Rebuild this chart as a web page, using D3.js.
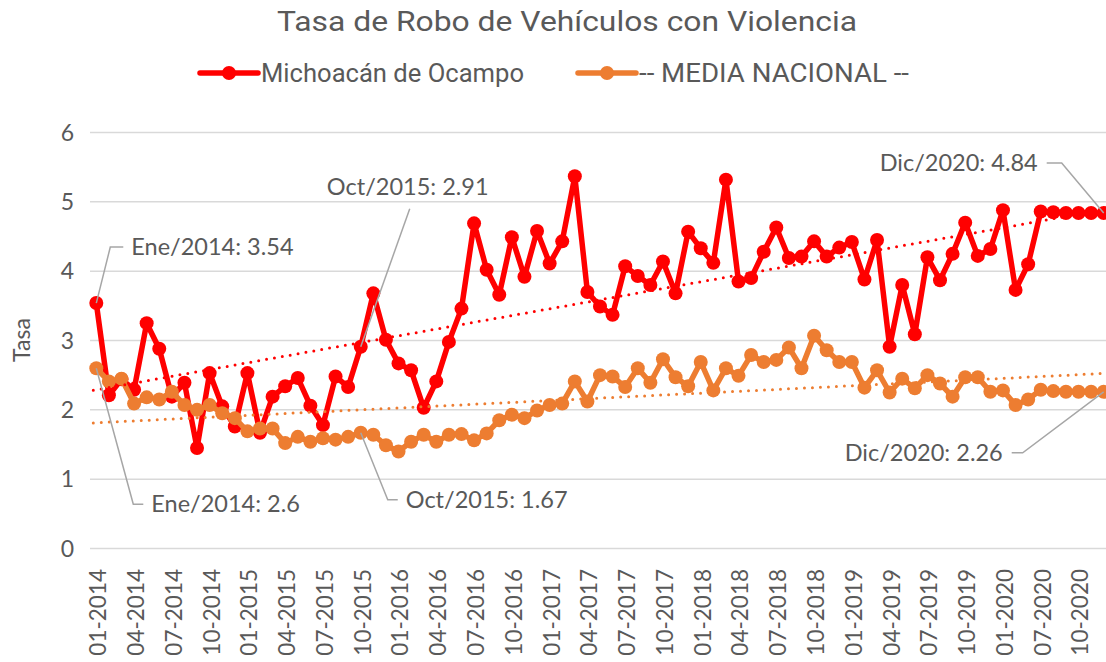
<!DOCTYPE html>
<html>
<head>
<meta charset="utf-8">
<script src="https://cdn.jsdelivr.net/npm/d3@7"></script>
<style>
  body { margin: 0; background: #fff; }
  text { font-family: Lato, "Open Sans", sans-serif; fill: #595959; }
</style>
</head>
<body>
<div id="chart"></div>
<script>
// categorias (abr-jun 2020 no vienen en los datos)
const categories = [
  "01-2014","02-2014","03-2014","04-2014","05-2014","06-2014","07-2014","08-2014","09-2014","10-2014","11-2014","12-2014",
  "01-2015","02-2015","03-2015","04-2015","05-2015","06-2015","07-2015","08-2015","09-2015","10-2015","11-2015","12-2015",
  "01-2016","02-2016","03-2016","04-2016","05-2016","06-2016","07-2016","08-2016","09-2016","10-2016","11-2016","12-2016",
  "01-2017","02-2017","03-2017","04-2017","05-2017","06-2017","07-2017","08-2017","09-2017","10-2017","11-2017","12-2017",
  "01-2018","02-2018","03-2018","04-2018","05-2018","06-2018","07-2018","08-2018","09-2018","10-2018","11-2018","12-2018",
  "01-2019","02-2019","03-2019","04-2019","05-2019","06-2019","07-2019","08-2019","09-2019","10-2019","11-2019","12-2019",
  "01-2020","02-2020","03-2020","07-2020","08-2020","09-2020","10-2020","11-2020","12-2020"
];

const michoacan = [
  3.54,2.21,2.44,2.29,3.25,2.88,2.19,2.39,1.45,2.53,2.05,1.76,
  2.53,1.67,2.19,2.34,2.46,2.06,1.78,2.48,2.33,2.91,3.68,3.01,
  2.67,2.57,2.03,2.41,2.98,3.46,4.69,4.02,3.66,4.49,3.92,4.58,
  4.11,4.43,5.37,3.70,3.49,3.37,4.07,3.93,3.80,4.14,3.68,4.57,
  4.33,4.12,5.32,3.85,3.90,4.28,4.63,4.19,4.21,4.43,4.21,4.34,
  4.42,3.88,4.45,2.91,3.80,3.09,4.20,3.87,4.25,4.70,4.22,4.32,
  4.88,3.73,4.10,4.86,4.85,4.84,4.84,4.84,4.84
];

const mediaNacional = [
  2.60,2.41,2.45,2.09,2.18,2.15,2.26,2.07,2.00,2.07,1.95,1.88,
  1.69,1.73,1.73,1.52,1.61,1.54,1.59,1.57,1.61,1.67,1.64,1.49,
  1.40,1.54,1.64,1.54,1.64,1.65,1.56,1.66,1.85,1.93,1.88,1.99,
  2.07,2.09,2.41,2.12,2.50,2.48,2.33,2.60,2.39,2.73,2.47,2.34,
  2.69,2.28,2.60,2.49,2.79,2.69,2.72,2.90,2.60,3.07,2.86,2.69,
  2.69,2.32,2.57,2.25,2.45,2.31,2.50,2.38,2.19,2.47,2.47,2.26,
  2.28,2.07,2.15,2.29,2.27,2.26,2.26,2.26,2.26
];

const yTicks = [0, 1, 2, 3, 4, 5, 6];
const seriesNames = ["Michoacán de Ocampo", "-- MEDIA NACIONAL --"];
const title = "Tasa de Robo de Vehículos con Violencia";

// etiquetas de datos
const notes = [
  { serie: 0, idx: 0,  text: "Ene/2014: 3.54" },
  { serie: 1, idx: 0,  text: "Ene/2014: 2.6" },
  { serie: 0, idx: 21, text: "Oct/2015: 2.91" },
  { serie: 1, idx: 21, text: "Oct/2015: 1.67" },
  { serie: 0, idx: 80, text: "Dic/2020: 4.84" },
  { serie: 1, idx: 80, text: "Dic/2020: 2.26" }
];

const W = 1106, H = 662;
const colors = ["#ff0000", "#ed7d31"];
const svg = d3.select("#chart").append("svg")
    .attr("width", W).attr("height", H);

const x = d3.scaleBand().domain(categories).range([90, 1110]);
const cx = c => x(c) + x.bandwidth() / 2;
const y = d3.scaleLinear().domain([0, 6]).range([548.5, 132.5]);

// titulo
svg.append("text")
    .attr("x", 567).attr("y", 31)
    .attr("text-anchor", "middle")
    .style("font-family", "Roboto, sans-serif")
    .style("font-size", "28px")
    .attr("textLength", 580).attr("lengthAdjust", "spacingAndGlyphs")
    .text(title);

// leyenda
const legX = [200, 578];
const legW = [263, 270];
seriesNames.forEach((name, i) => {
  const g = svg.append("g").attr("transform", `translate(${legX[i]},73)`);
  g.append("line").attr("x1", 0).attr("x2", 58)
      .attr("stroke", colors[i]).attr("stroke-width", 5.5).attr("stroke-linecap", "round");
  g.append("circle").attr("cx", 29).attr("r", 7).attr("fill", colors[i]);
  g.append("text").attr("x", 61).attr("dy", "0.35em")
      .style("font-family", "Roboto, sans-serif")
      .style("font-size", "25px")
      .attr("textLength", legW[i]).attr("lengthAdjust", "spacingAndGlyphs")
      .text(name);
});

// rejilla y eje y
svg.append("g").selectAll("line")
    .data(yTicks).join("line")
    .attr("x1", 90).attr("x2", W)
    .attr("y1", d => y(d)).attr("y2", d => y(d))
    .attr("stroke", "#d9d9d9").attr("stroke-width", 1.5);

svg.append("g").selectAll("text")
    .data(yTicks).join("text")
    .attr("x", 74).attr("y", d => y(d)).attr("dy", "0.35em")
    .attr("text-anchor", "end")
    .style("font-size", "23px")
    .text(d => d);

svg.append("text")
    .attr("transform", "translate(22,340) rotate(-90)")
    .attr("text-anchor", "middle").attr("dy", "0.35em")
    .style("font-size", "23px")
    .text("Tasa");

// eje x: una etiqueta cada 3 categorias
svg.append("g").selectAll("text")
    .data(categories.filter((c, i) => i % 3 === 0)).join("text")
    .attr("transform", d => `translate(${cx(d) + 2},569) rotate(-90)`)
    .attr("text-anchor", "end").attr("dy", "0.35em")
    .style("font-size", "22.5px")
    .text(d => d);

// series
const allSeries = [michoacan, mediaNacional];
const line = d3.line().x((d, i) => cx(categories[i])).y(d => y(d));

allSeries.forEach((vals, s) => {
  const g = svg.append("g");
  g.append("path").datum(vals)
      .attr("d", line)
      .attr("fill", "none")
      .attr("stroke", colors[s]).attr("stroke-width", 5.5)
      .attr("stroke-linejoin", "round");
  g.selectAll("circle").data(vals).join("circle")
      .attr("cx", (d, i) => cx(categories[i]))
      .attr("cy", d => y(d))
      .attr("r", 7)
      .attr("fill", colors[s]);
});

// lineas de tendencia (minimos cuadrados)
allSeries.forEach((vals, s) => {
  const n = vals.length;
  const mx = d3.mean(vals, (d, i) => i), my = d3.mean(vals);
  let sxy = 0, sxx = 0;
  vals.forEach((d, i) => { sxy += (i - mx) * (d - my); sxx += (i - mx) * (i - mx); });
  const b = sxy / sxx, a = my - b * mx;
  svg.append("line")
      .attr("x1", cx(categories[0]) - 3).attr("y1", y(a))
      .attr("x2", cx(categories[n - 1])).attr("y2", y(a + b * (n - 1)))
      .attr("stroke", colors[s]).attr("stroke-width", 3)
      .attr("stroke-dasharray", "0 8").attr("stroke-linecap", "round");
});

// etiquetas con lineas guia
const noteLayout = [
  { path: [[14, -56], [27, -56]], tx: 35, ty: -56, anchor: "start" },
  { path: [[37, 136], [47, 136]], tx: 55, ty: 136, anchor: "start" },
  { path: [[49, -138]], tx: 47, ty: -160, anchor: "middle" },
  { path: [[27, 67], [37, 67]], tx: 45, ty: 67, anchor: "start" },
  { path: [[-42, -50], [-57, -50]], tx: -66, ty: -50, anchor: "end" },
  { path: [[-81, 61], [-92, 61]], tx: -101, ty: 61, anchor: "end" }
];

const noteG = svg.append("g");
notes.forEach((n, k) => {
  const px = cx(categories[n.idx]);
  const py = y(allSeries[n.serie][n.idx]);
  const lay = noteLayout[k];
  const pts = [[px, py]].concat(lay.path.map(p => [px + p[0], py + p[1]]));
  noteG.append("path")
      .attr("d", d3.line()(pts))
      .attr("fill", "none")
      .attr("stroke", "#a6a6a6").attr("stroke-width", 1.5);
  noteG.append("text")
      .attr("x", px + lay.tx).attr("y", py + lay.ty).attr("dy", "0.35em")
      .attr("text-anchor", lay.anchor)
      .style("font-size", "23.5px")
      .text(n.text);
});
</script>
</body>
</html>
